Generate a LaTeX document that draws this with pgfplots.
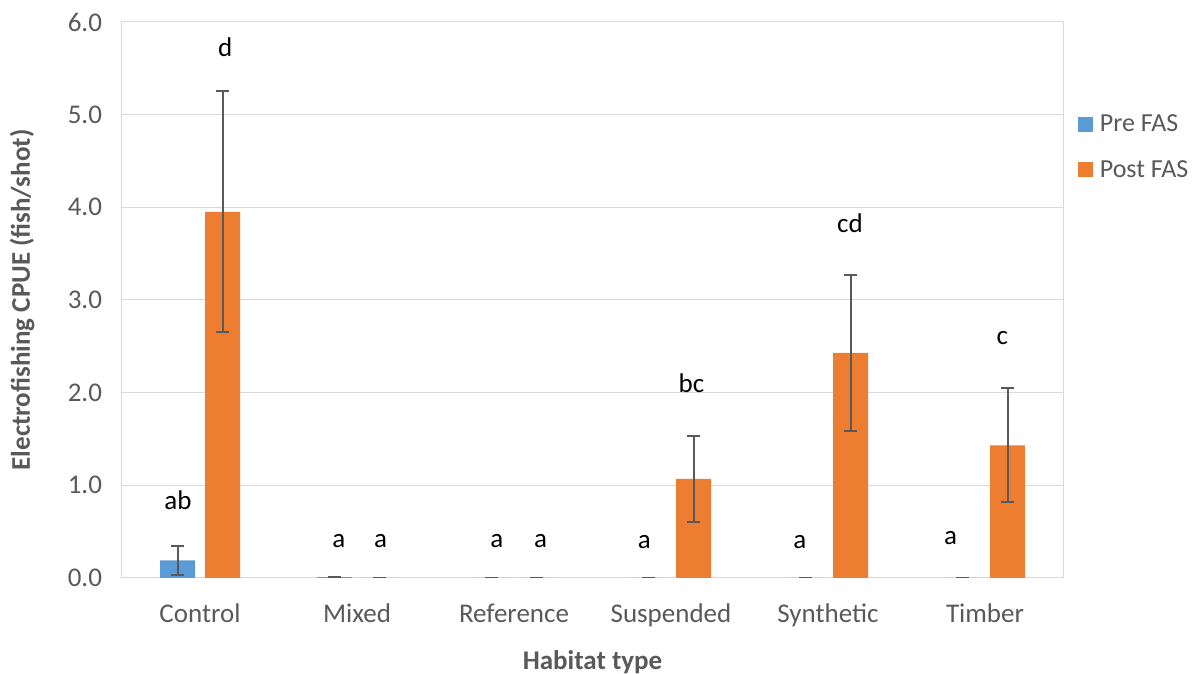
\documentclass[border=0pt]{standalone}
\usepackage{pgfplots}
\pgfplotsset{compat=1.18}
\usepackage{fontspec}
\setmainfont{Carlito}
\definecolor{preblue}{HTML}{5B9BD5}
\definecolor{postorange}{HTML}{ED7D31}
\definecolor{txtgrey}{HTML}{595959}
\definecolor{gridgrey}{HTML}{D9D9D9}
\begin{document}
\begin{tikzpicture}
\path[use as bounding box] (0,0) rectangle (1199pt,674pt);
\begin{axis}[
  at={(121.5pt,96pt)}, anchor=south west,
  scale only axis, width=942pt, height=556pt,
  ybar=10pt, bar width=35pt,
  xmin=-0.5, xmax=5.5, ymin=0, ymax=6,
  xtick={0,1,2,3,4,5},
  xticklabels={Control,Mixed,Reference,Suspended,Synthetic,Timber},
  ytick={0,1,2,3,4,5,6},
  major tick length=0pt,
  ymajorgrids, grid style={gridgrey, line width=1pt},
  axis line style={gridgrey, line width=1pt},
  font=\fontsize{27}{32}\selectfont,
  tick label style={text=txtgrey},
  yticklabel style={xshift=-16pt, /pgf/number format/fixed, /pgf/number format/fixed zerofill, /pgf/number format/precision=1, /pgf/number format/assume math mode=true},
  xticklabel style={yshift=-22pt},
  xlabel={\textbf{Habitat type}},
  ylabel={\textbf{Electrofishing CPUE (fish/shot)}},
  label style={text=txtgrey},
  xlabel style={at={(axis description cs:0.5,-0.151)}, anchor=center},
  ylabel style={at={(axis description cs:-0.1056,0.5)}, anchor=center},
  legend style={draw=none, fill=none, at={(1.015,0.837)}, anchor=north west,
    inner sep=0pt, row sep=23pt, font=\fontsize{26}{30}\selectfont, text=txtgrey,
    /tikz/every odd column/.append style={column sep=5pt}},
  legend cell align=left,
  legend image code/.code={\fill[#1, draw=none] (0pt,-7.5pt) rectangle (15pt,7.5pt);},
  error bars/y dir=both, error bars/y explicit,
  error bars/error bar style={txtgrey, line width=2pt},
  error bars/error mark options={txtgrey, rotate=90, mark size=6.5pt, line width=2pt},
]
\addplot[fill=preblue, draw=none] coordinates {
  (0,0.19) +- (0,0.16)
  (1,0.01) +- (0,0.005)
  (2,0) +- (0,0)
  (3,0) +- (0,0)
  (4,0) +- (0,0)
  (5,0) +- (0,0)
};
\addplot[fill=postorange, draw=none] coordinates {
  (0,3.95) +- (0,1.30)
  (1,0) +- (0,0)
  (2,0) +- (0,0)
  (3,1.07) +- (0,0.465)
  (4,2.43) +- (0,0.84)
  (5,1.43) +- (0,0.615)
};
\legend{Pre FAS, Post FAS}
\node[text=black] at (axis cs:-0.14,0.84) {ab};
\node[text=black] at (axis cs:0.16,5.73) {d};
\node[text=black] at (axis cs:0.885,0.40) {a};
\node[text=black] at (axis cs:1.15,0.40) {a};
\node[text=black] at (axis cs:1.89,0.40) {a};
\node[text=black] at (axis cs:2.17,0.40) {a};
\node[text=black] at (axis cs:2.83,0.39) {a};
\node[text=black] at (axis cs:3.13,2.10) {bc};
\node[text=black] at (axis cs:3.82,0.39) {a};
\node[text=black] at (axis cs:4.14,3.83) {cd};
\node[text=black] at (axis cs:4.78,0.43) {a};
\node[text=black] at (axis cs:5.11,2.59) {c};
\end{axis}
\end{tikzpicture}
\end{document}
